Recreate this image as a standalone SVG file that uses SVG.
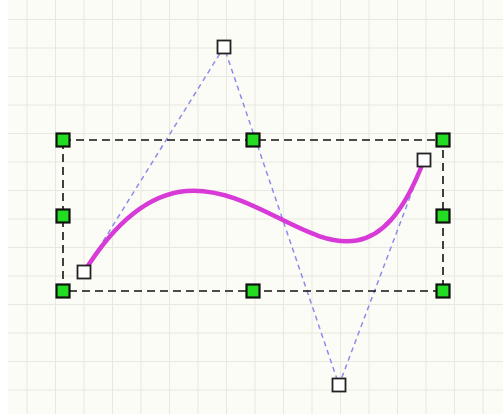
<svg xmlns="http://www.w3.org/2000/svg" width="503" height="414" viewBox="0 0 503 414">
<defs>
<pattern id="grid" x="26.5" y="19" width="28.5" height="28.5" patternUnits="userSpaceOnUse">
<path d="M0 0V28.5M0 0H28.5" fill="none" stroke="#e8e8e0" stroke-width="2"/>
</pattern>
</defs>
<style>
.handle{fill:#22dd22;stroke:#111;stroke-width:2.2}
.ctrl{fill:#fff;stroke:#222;stroke-width:1.8}
.guide{fill:none;stroke:#8c8cee;stroke-width:1.5;stroke-dasharray:5 4}
.box{fill:none;stroke:#111;stroke-width:1.6;stroke-dasharray:8 5}
.curve{fill:none;stroke:#d83ad8;stroke-width:4.5;stroke-linecap:round}
</style>
<rect width="503" height="414" fill="#fcfcf6"/>
<rect width="503" height="414" fill="url(#grid)"/>
<rect x="0" y="0" width="8" height="414" fill="#ffffff"/>
<g id="connectors">
<path class="guide" d="M84 272L224 47L339 385L424 160"/>
<rect class="box" x="63" y="140" width="380" height="151"/>
<path class="curve" d="M84 272C224 47 339 385 424 160"/>
</g>
<g id="handle-tl"><rect class="handle" x="56.5" y="133.5" width="13" height="13"/></g>
<g id="handle-tm"><rect class="handle" x="246.5" y="133.5" width="13" height="13"/></g>
<g id="handle-tr"><rect class="handle" x="436.5" y="133.5" width="13" height="13"/></g>
<g id="handle-ml"><rect class="handle" x="56.5" y="209.5" width="13" height="13"/></g>
<g id="handle-mr"><rect class="handle" x="436.5" y="209.5" width="13" height="13"/></g>
<g id="handle-bl"><rect class="handle" x="56.5" y="284.5" width="13" height="13"/></g>
<g id="handle-bm"><rect class="handle" x="246.5" y="284.5" width="13" height="13"/></g>
<g id="handle-br"><rect class="handle" x="436.5" y="284.5" width="13" height="13"/></g>
<g id="p0"><rect class="ctrl" x="77.5" y="265.5" width="13" height="13"/></g>
<g id="p1"><rect class="ctrl" x="217.5" y="40.5" width="13" height="13"/></g>
<g id="p2"><rect class="ctrl" x="332.5" y="378.5" width="13" height="13"/></g>
<g id="p3"><rect class="ctrl" x="417.5" y="153.5" width="13" height="13"/></g>
</svg>
